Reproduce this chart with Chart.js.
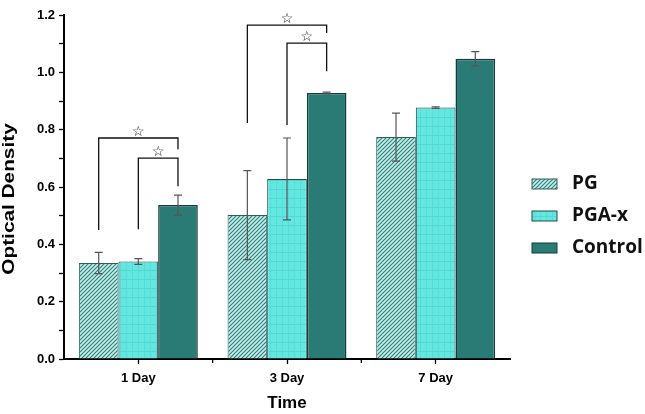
<!DOCTYPE html>
<html><head><meta charset="utf-8">
<script src="https://cdn.jsdelivr.net/npm/chart.js@4.4.1/dist/chart.umd.min.js"></script>
<style>html,body{margin:0;padding:0;background:#fff}</style>
</head><body>
<canvas id="c" width="645" height="414"></canvas>
<script>
const days = ['1 Day', '3 Day', '7 Day'];
const pg = [0.335, 0.502, 0.774];
const pgErr = [0.037, 0.155, 0.084];
const pgax = [0.340, 0.628, 0.877];
const pgaxErr = [0.010, 0.143, 0.003];
const control = [0.537, 0.928, 1.047];
const controlErr = [0.035, 0.003, 0.025];
const yTicks = [0, 0.2, 0.4, 0.6, 0.8, 1.0, 1.2];
// significance brackets: day, from series, to series, left foot, top, right foot
const brackets = [
  [0, 0, 2, 0.450, 0.771, 0.732],
  [0, 1, 2, 0.453, 0.701, 0.603],
  [1, 0, 2, 0.823, 1.165, 1.137],
  [1, 1, 2, 0.816, 1.102, 1.004]
];

const canvas = document.getElementById('c');
const ctx = canvas.getContext('2d');

function stripes() {
  const p = document.createElement('canvas');
  p.width = 4; p.height = 4;
  const g = p.getContext('2d');
  g.fillStyle = '#c6f0ec'; g.fillRect(0, 0, 4, 4);
  g.strokeStyle = '#347f7a'; g.lineWidth = 1.2;
  g.beginPath();
  g.moveTo(0, 4); g.lineTo(4, 0);
  g.moveTo(-2, 2); g.lineTo(2, -2);
  g.moveTo(2, 6); g.lineTo(6, 2);
  g.stroke();
  return ctx.createPattern(p, 'repeat');
}
function plaid() {
  const p = document.createElement('canvas');
  p.width = 6; p.height = 9;
  const g = p.getContext('2d');
  g.fillStyle = '#63e8e1'; g.fillRect(0, 0, 6, 9);
  g.fillStyle = '#5adcd6'; g.fillRect(0, 0, 1, 9);
  g.fillStyle = '#57d6d0'; g.fillRect(0, 0, 6, 1);
  return ctx.createPattern(p, 'repeat');
}

const errorBars = {
  id: 'errorBars',
  afterDatasetsDraw(chart) {
    const y = chart.scales.y, c = chart.ctx;
    c.save();
    c.strokeStyle = '#555'; c.lineWidth = 1.2;
    chart.data.datasets.forEach((ds, i) => {
      chart.getDatasetMeta(i).data.forEach((bar, j) => {
        const hi = y.getPixelForValue(ds.data[j] + ds.err[j]);
        const lo = y.getPixelForValue(ds.data[j] - ds.err[j]);
        c.beginPath();
        c.moveTo(bar.x, hi); c.lineTo(bar.x, lo);
        c.moveTo(bar.x - 4, hi); c.lineTo(bar.x + 4, hi);
        c.moveTo(bar.x - 4, lo); c.lineTo(bar.x + 4, lo);
        c.stroke();
      });
    });
    c.restore();
  }
};

const sigMarks = {
  id: 'sigMarks',
  afterDatasetsDraw(chart) {
    const y = chart.scales.y, c = chart.ctx;
    c.save();
    c.strokeStyle = '#111'; c.lineWidth = 1.3;
    c.fillStyle = '#111';
    c.font = 'bold 14px "DejaVu Sans"';
    c.textAlign = 'center'; c.textBaseline = 'middle';
    brackets.forEach(([d, a, b, l, t, r]) => {
      const xa = chart.getDatasetMeta(a).data[d].x;
      const xb = chart.getDatasetMeta(b).data[d].x;
      const yt = y.getPixelForValue(t);
      c.beginPath();
      c.moveTo(xa, y.getPixelForValue(l));
      c.lineTo(xa, yt); c.lineTo(xb, yt);
      c.lineTo(xb, y.getPixelForValue(r));
      c.stroke();
      c.fillText('\u2606', (xa + xb) / 2, yt - 6);
    });
    c.restore();
  }
};

const extras = {
  id: 'extras',
  afterDraw(chart) {
    const x = chart.scales.x, y = chart.scales.y, c = chart.ctx;
    c.save();
    // minor ticks between categories
    c.strokeStyle = '#000'; c.lineWidth = 1.3;
    for (let i = 0; i < days.length - 1; i++) {
      const m = (x.getPixelForTick(i) + x.getPixelForTick(i + 1)) / 2;
      c.beginPath(); c.moveTo(m, x.top); c.lineTo(m, x.top + 4); c.stroke();
    }
    // y axis title, stretched along its length like the source
    c.save();
    c.translate(10, (y.top + y.bottom) / 2 + 12);
    c.rotate(-Math.PI / 2);
    c.scale(1.3, 1);
    c.font = 'bold 16px "Liberation Sans"';
    c.fillStyle = '#000'; c.textAlign = 'center'; c.textBaseline = 'middle';
    c.fillText('Optical Density', 0, 0);
    c.restore();
    // legend
    c.font = 'bold 19px "Open Sans"';
    c.textBaseline = 'middle'; c.textAlign = 'left';
    chart.data.datasets.forEach((ds, i) => {
      const yy = 184 + i * 32;
      c.fillStyle = ds.backgroundColor;
      c.fillRect(532, yy - 5, 25, 10);
      c.strokeStyle = ds.borderColor; c.lineWidth = 1;
      c.strokeRect(532, yy - 5, 25, 10);
      c.fillStyle = '#111';
      c.fillText(ds.label, 572, yy);
    });
    c.restore();
  }
};

new Chart(canvas, {
  type: 'bar',
  data: {
    labels: days,
    datasets: [
      {label: 'PG', data: pg, err: pgErr, backgroundColor: stripes(), borderColor: '#2d5c59', borderWidth: 1},
      {label: 'PGA-x', data: pgax, err: pgaxErr, backgroundColor: plaid(), borderColor: '#244b49', borderWidth: 1},
      {label: 'Control', data: control, err: controlErr, backgroundColor: '#2a7b76', borderColor: '#153c3a', borderWidth: 1.5}
    ]
  },
  options: {
    responsive: false,
    devicePixelRatio: 1,
    animation: false,
    categoryPercentage: 0.8,
    barPercentage: 1,
    layout: {padding: {top: 15, right: 135, left: 0, bottom: 0}},
    plugins: {legend: {display: false}, tooltip: {enabled: false}},
    scales: {
      x: {
        afterFit: s => { s.height = 55; },
        grid: {offset: false, drawOnChartArea: false, tickLength: 5, color: '#000', tickWidth: 1.3},
        border: {color: '#000', width: 2},
        ticks: {color: '#000', font: {family: '"Liberation Sans"', size: 13, weight: 'bold'}, padding: 7},
        title: {display: true, text: 'Time', color: '#000', font: {family: '"Liberation Sans"', size: 17, weight: 'bold'}, padding: {top: 4, bottom: 0}}
      },
      y: {
        min: 0, max: 1.2,
        afterFit: s => { s.width = 64; },
        grid: {drawOnChartArea: false, tickLength: 5, color: '#000', tickWidth: 1.3},
        border: {color: '#000', width: 2},
        ticks: {
          stepSize: 0.1, color: '#000', padding: 4,
          font: {family: '"Liberation Sans"', size: 13, weight: 'bold'},
          callback: v => yTicks.some(t => Math.abs(t - v) < 1e-6) ? v.toFixed(1) : ''
        }
      }
    }
  },
  plugins: [errorBars, sigMarks, extras]
});
</script>
</body></html>
